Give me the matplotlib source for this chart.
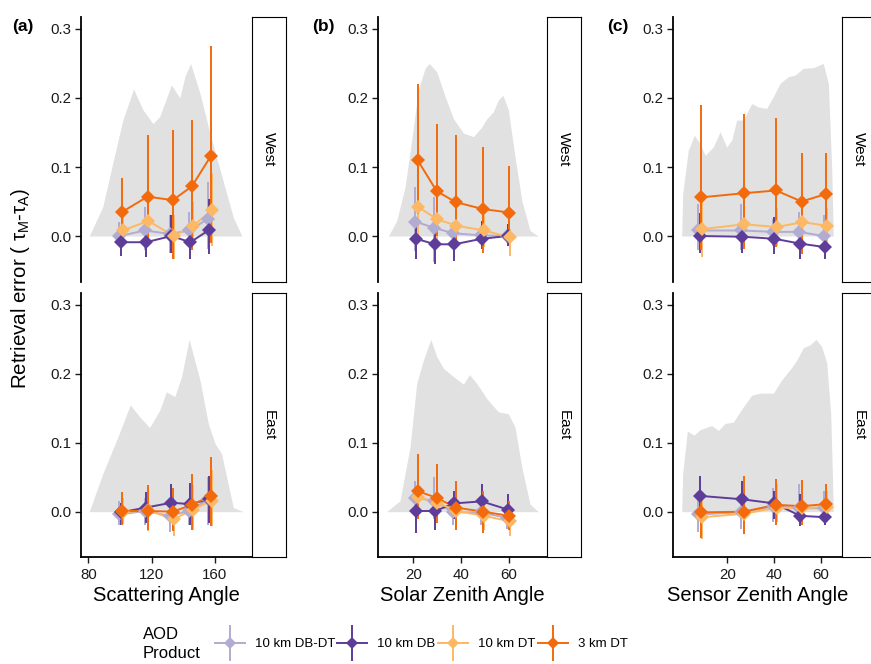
import matplotlib
matplotlib.use('Agg')
import matplotlib.pyplot as plt
from matplotlib.lines import Line2D
import numpy as np

plt.rcParams['font.family'] = ['Liberation Sans', 'DejaVu Sans']
plt.rcParams['mathtext.fontset'] = 'custom'
plt.rcParams['mathtext.rm'] = 'Liberation Sans'
plt.rcParams['mathtext.it'] = 'Liberation Sans'
plt.rcParams['mathtext.bf'] = 'Liberation Sans:bold'

# ---------------- data ----------------
products = ['10 km DB-DT', '10 km DB', '10 km DT', '3 km DT']
colors = ['#B2ABD2', '#5E3C99', '#FDB863', '#F26A0C']
regions = ['West', 'East']
panel_tags = ['(a)', '(b)', '(c)']
x_titles = ['Scattering Angle', 'Solar Zenith Angle', 'Sensor Zenith Angle']
x_ticks_a = [80, 120, 160]
x_ticks_b = [20, 40, 60]
x_ticks_c = [20, 40, 60]
y_ticks = [0.0, 0.1, 0.2, 0.3]

# bin centres (angle, degrees)
a_bins = [101, 117, 133, 145, 157]
b_bins = [21.5, 29.5, 37.5, 49, 60]
c_bins = [8.5, 26.7, 40.5, 51.5, 62]

# retrieval error: rows = products (DB-DT, DB, DT, 3km DT)
a_west_mean = [[0.000, 0.008, 0.003, 0.008, 0.025],
               [-0.009, -0.009, 0.000, -0.009, 0.009],
               [0.008, 0.022, 0.000, 0.014, 0.037],
               [0.035, 0.057, 0.052, 0.072, 0.116]]
a_west_lo = [[-0.015, -0.020, -0.025, -0.015, -0.019],
             [-0.029, -0.030, -0.024, -0.033, -0.026],
             [-0.010, -0.005, -0.033, -0.012, -0.014],
             [-0.005, -0.005, -0.033, -0.020, -0.010]]
a_west_hi = [[0.020, 0.042, 0.030, 0.035, 0.078],
             [0.010, 0.012, 0.030, 0.012, 0.054],
             [0.030, 0.077, 0.030, 0.050, 0.091],
             [0.084, 0.146, 0.153, 0.168, 0.276]]

a_east_mean = [[-0.004, 0.001, -0.006, 0.001, 0.018],
               [-0.001, 0.006, 0.013, 0.011, 0.018],
               [-0.001, 0.002, -0.011, 0.003, 0.016],
               [0.001, 0.001, 0.000, 0.010, 0.023]]
a_east_lo = [[-0.020, -0.020, -0.030, -0.020, -0.020],
             [-0.019, -0.016, -0.014, -0.020, -0.016],
             [-0.018, -0.028, -0.036, -0.026, -0.021],
             [-0.019, -0.026, -0.028, -0.026, -0.021]]
a_east_hi = [[0.015, 0.020, 0.020, 0.020, 0.050],
             [0.012, 0.028, 0.040, 0.042, 0.052],
             [0.020, 0.035, 0.012, 0.038, 0.060],
             [0.029, 0.039, 0.035, 0.055, 0.079]]

b_west_mean = [[0.021, 0.012, 0.004, 0.001, 0.000],
               [-0.004, -0.012, -0.012, -0.004, 0.000],
               [0.042, 0.024, 0.015, 0.008, -0.002],
               [0.110, 0.065, 0.049, 0.039, 0.034]]
b_west_lo = [[-0.021, -0.038, -0.015, -0.010, -0.010],
             [-0.033, -0.041, -0.036, -0.019, -0.014],
             [0.000, -0.010, -0.010, -0.016, -0.029],
             [0.032, 0.000, -0.007, -0.024, 0.000]]
b_west_hi = [[0.071, 0.056, 0.020, 0.015, 0.010],
             [0.025, 0.012, 0.010, 0.022, 0.017],
             [0.110, 0.060, 0.040, 0.030, 0.010],
             [0.220, 0.162, 0.146, 0.129, 0.101]]

b_east_mean = [[0.020, 0.016, -0.001, -0.001, -0.009],
               [0.001, 0.001, 0.012, 0.015, 0.003],
               [0.021, 0.013, 0.001, -0.006, -0.014],
               [0.030, 0.020, 0.006, 0.000, -0.006]]
b_east_lo = [[-0.005, -0.010, -0.020, -0.020, -0.025],
             [-0.031, -0.026, -0.010, -0.010, -0.010],
             [-0.005, -0.010, -0.026, -0.026, -0.036],
             [-0.011, -0.016, -0.026, -0.031, -0.026]]
b_east_hi = [[0.045, 0.050, 0.020, 0.020, 0.010],
             [0.020, 0.020, 0.030, 0.040, 0.025],
             [0.064, 0.067, 0.035, 0.015, 0.010],
             [0.084, 0.069, 0.045, 0.030, 0.016]]

c_west_mean = [[0.008, 0.008, 0.006, 0.006, 0.000],
               [0.000, -0.001, -0.004, -0.011, -0.016],
               [0.010, 0.017, 0.013, 0.020, 0.015],
               [0.056, 0.062, 0.066, 0.050, 0.061]]
c_west_lo = [[-0.020, -0.020, -0.015, -0.015, -0.020],
             [-0.024, -0.024, -0.026, -0.033, -0.033],
             [-0.030, -0.015, -0.015, -0.010, -0.010],
             [-0.020, -0.019, -0.016, -0.026, -0.012]]
c_west_hi = [[0.047, 0.047, 0.025, 0.035, 0.030],
             [0.034, 0.020, 0.027, 0.010, 0.003],
             [0.050, 0.050, 0.040, 0.064, 0.040],
             [0.190, 0.177, 0.171, 0.120, 0.120]]

c_east_mean = [[-0.004, -0.001, 0.008, 0.005, 0.005],
               [0.023, 0.018, 0.012, -0.006, -0.008],
               [-0.008, -0.003, 0.006, 0.005, 0.007],
               [-0.001, 0.000, 0.010, 0.008, 0.011]]
c_east_lo = [[-0.030, -0.025, -0.015, -0.015, -0.015],
             [0.003, -0.005, -0.010, -0.021, -0.020],
             [-0.040, -0.030, -0.015, -0.015, -0.015],
             [-0.038, -0.033, -0.019, -0.019, -0.014]]
c_east_hi = [[0.020, 0.025, 0.035, 0.040, 0.030],
             [0.052, 0.045, 0.030, 0.025, 0.010],
             [0.020, 0.030, 0.040, 0.030, 0.030],
             [0.018, 0.052, 0.047, 0.046, 0.040]]

# scaled sample density (background grey area)
a_west_dens_x = [80.6, 89.1, 95.4, 101.8, 108.6, 114.5, 120.8, 125.1, 132.5, 137.8,
                 141.0, 144.6, 150.5, 156.8, 162.1, 167.4, 171.6, 177.0]
a_west_dens_y = [0.0, 0.042, 0.105, 0.168, 0.213, 0.183, 0.163, 0.173, 0.219, 0.200,
                 0.231, 0.250, 0.207, 0.149, 0.105, 0.061, 0.027, 0.0]
a_east_dens_x = [80.6, 89.1, 98.6, 106.5, 112.4, 118.7, 125.1, 129.3, 134.6, 138.9,
                 143.7, 150.5, 155.8, 160.0, 164.2, 167.4, 171.6, 178.0]
a_east_dens_y = [0.0, 0.055, 0.108, 0.155, 0.138, 0.122, 0.147, 0.174, 0.167, 0.196,
                 0.250, 0.191, 0.128, 0.099, 0.084, 0.050, 0.006, 0.0]
b_west_dens_x = [9.5, 13.0, 16.5, 19.3, 22.1, 24.9, 26.7, 29.8, 33.3, 36.8, 41.0, 45.2,
                 48.7, 50.8, 53.5, 55.6, 57.5, 59.8, 62.6, 65.5, 68.9, 72.4]
b_west_dens_y = [0.0, 0.022, 0.071, 0.139, 0.212, 0.243, 0.250, 0.238, 0.202, 0.170, 0.149,
                 0.144, 0.158, 0.170, 0.180, 0.197, 0.204, 0.183, 0.115, 0.051, 0.008, 0.0]
b_east_dens_x = [8.8, 14.4, 18.6, 21.4, 24.2, 27.3, 29.8, 32.6, 36.8, 41.0, 43.5, 46.6,
                 50.8, 55.6, 59.8, 62.6, 65.5, 68.9, 72.4]
b_east_dens_y = [0.0, 0.016, 0.094, 0.186, 0.220, 0.250, 0.225, 0.208, 0.196, 0.185, 0.199,
                 0.186, 0.164, 0.145, 0.142, 0.123, 0.064, 0.011, 0.0]
c_west_dens_x = [0.5, 0.9, 3.3, 5.9, 8.3, 10.5, 14.0, 16.9, 19.7, 21.9, 24.0, 26.8, 30.4,
                 33.2, 36.8, 39.7, 42.5, 46.1, 48.9, 52.5, 56.8, 61.0, 63.2, 64.6, 65.3]
c_west_dens_y = [0.0, 0.061, 0.124, 0.146, 0.134, 0.117, 0.129, 0.151, 0.129, 0.139, 0.168,
                 0.168, 0.192, 0.187, 0.185, 0.202, 0.221, 0.231, 0.233, 0.243, 0.244,
                 0.250, 0.221, 0.100, 0.0]
c_east_dens_x = [0.5, 0.9, 2.9, 5.8, 8.3, 13.3, 16.2, 19.0, 22.6, 26.8, 30.4, 34.0, 39.7,
                 43.2, 46.8, 49.7, 52.5, 55.3, 57.9, 60.3, 62.5, 64.2, 65.0, 65.3]
c_east_dens_y = [0.0, 0.055, 0.117, 0.111, 0.119, 0.125, 0.118, 0.128, 0.130, 0.152, 0.169,
                 0.172, 0.172, 0.191, 0.206, 0.220, 0.238, 0.242, 0.250, 0.240, 0.216,
                 0.142, 0.045, 0.0]

# ---------------- layout / style ----------------
W, H = 871, 664
fig = plt.figure(figsize=(W / 100, H / 100), dpi=100)

def fbox(x0, y0, x1, y1):
    return [x0 / W, 1 - y1 / H, (x1 - x0) / W, (y1 - y0) / H]

panel_left = [81.0, 378.3, 673.3]
panel_right = [251.7, 546.7, 841.7]
strip_w = 34.5
row_top = [16.7, 292.7]
row_bot = [281.7, 557.3]
xlims = [(75.4, 183.2), (5.3, 75.9), (-3.1, 68.9)]
ylim = (-0.0662, 0.3178)
dodge = [-0.012, -0.005, 0.008, 0.004]
fill_col = '#E1E1E1'
tick_col = '#1a1a1a'

bins_all = [a_bins, b_bins, c_bins]
xticks_all = [x_ticks_a, x_ticks_b, x_ticks_c]
means_all = [[a_west_mean, a_east_mean], [b_west_mean, b_east_mean], [c_west_mean, c_east_mean]]
lo_all = [[a_west_lo, a_east_lo], [b_west_lo, b_east_lo], [c_west_lo, c_east_lo]]
hi_all = [[a_west_hi, a_east_hi], [b_west_hi, b_east_hi], [c_west_hi, c_east_hi]]
dx_all = [[a_west_dens_x, a_east_dens_x], [b_west_dens_x, b_east_dens_x], [c_west_dens_x, c_east_dens_x]]
dy_all = [[a_west_dens_y, a_east_dens_y], [b_west_dens_y, b_east_dens_y], [c_west_dens_y, c_east_dens_y]]

for p in range(3):
    for r in range(2):
        ax = fig.add_axes(fbox(panel_left[p], row_top[r], panel_right[p], row_bot[r]))
        ax.set_xlim(*xlims[p])
        ax.set_ylim(*ylim)
        ax.fill_between(dx_all[p][r], 0, dy_all[p][r], color=fill_col, lw=0, zorder=1)
        span = xlims[p][1] - xlims[p][0]
        xs = np.array(bins_all[p], dtype=float)
        for i in range(4):
            ax.vlines(xs + dodge[i] * span, lo_all[p][r][i], hi_all[p][r][i],
                      color=colors[i], lw=1.4, zorder=2)
        for i in range(4):
            ax.plot(xs + dodge[i] * span, means_all[p][r][i], color=colors[i], lw=1.4, zorder=3)
        for i in range(4):
            ax.plot(xs + dodge[i] * span, means_all[p][r][i], linestyle='none', marker='D',
                    ms=7, mew=0, color=colors[i], zorder=4)
        for s in ['top', 'right']:
            ax.spines[s].set_visible(False)
        ax.spines['left'].set_linewidth(1.3)
        ax.set_yticks(y_ticks)
        ax.set_yticklabels(['%.1f' % v for v in y_ticks])
        ax.tick_params(axis='y', length=4, width=1.0, pad=3, labelsize=10.8, colors=tick_col)
        if r == 0:
            ax.spines['bottom'].set_visible(False)
            ax.set_xticks([])
        else:
            ax.spines['bottom'].set_linewidth(1.3)
            ax.set_xticks(xticks_all[p])
            ax.tick_params(axis='x', length=4, width=1.0, pad=3.5, labelsize=10.8, colors=tick_col)
            ax.set_xlabel(x_titles[p], fontsize=14.5, labelpad=3)
        ax.patch.set_alpha(0)

        # strip
        sax = fig.add_axes(fbox(panel_right[p], row_top[r], panel_right[p] + strip_w, row_bot[r]))
        sax.set_xticks([])
        sax.set_yticks([])
        for s in sax.spines.values():
            s.set_linewidth(0.8)
            s.set_color('black')
        sax.text(0.5, 0.5, regions[r], rotation=270, ha='center', va='center',
                 fontsize=11, transform=sax.transAxes)

# panel tags
tag_x = [12, 312, 607]
for p in range(3):
    fig.text(tag_x[p] / W, 1 - 26 / H, panel_tags[p], fontsize=12.5, fontweight='bold',
             ha='left', va='center')

# y label
fig.text(20 / W, 1 - 288 / H, r'Retrieval error ( $\tau_{M}$-$\tau_{A}$)', rotation=90,
         ha='center', va='center', fontsize=14.8)

# legend
fig.text(143 / W, 1 - 627 / H, 'AOD\nProduct', ha='left', va='top', fontsize=12,
         linespacing=1.3)
key_x = [215, 337, 438, 538]
for i in range(4):
    h = (Line2D([], [], color=colors[i], marker='|', markersize=26, markeredgewidth=1.4,
                linestyle='none'),
         Line2D([], [], color=colors[i], marker='D', markersize=6, mew=0, lw=1.4))
    fig.legend(handles=[h], labels=[products[i]], loc='center left',
               bbox_to_anchor=(key_x[i] / W, 1 - 644 / H), frameon=False, borderpad=0,
               borderaxespad=0, handlelength=2.3, handletextpad=0.75, fontsize=9.5)

fig.savefig('out.png', dpi=100)
